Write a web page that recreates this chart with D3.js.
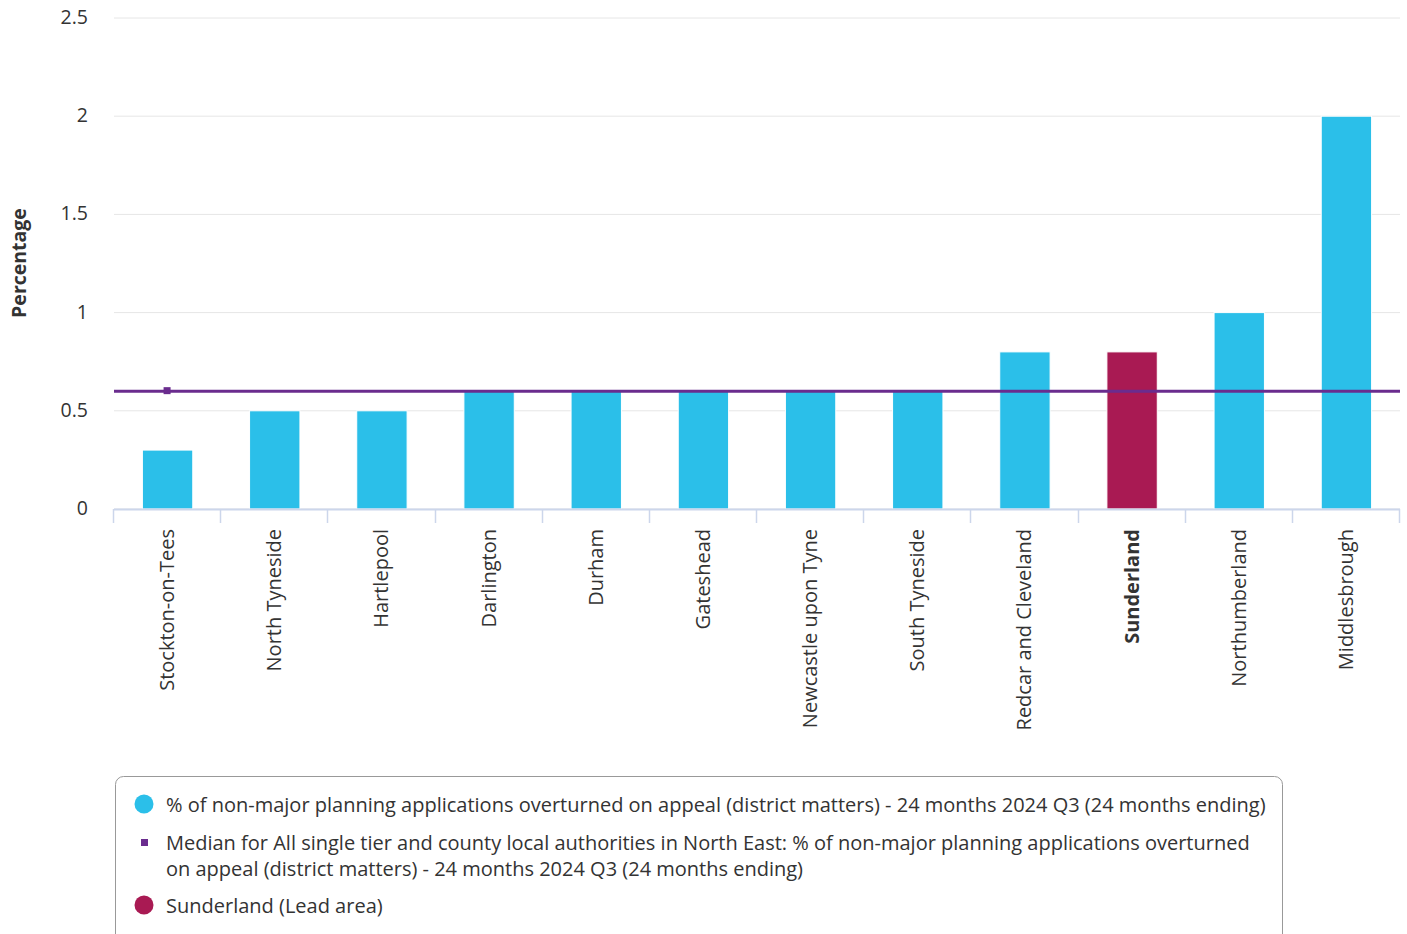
<!DOCTYPE html>
<html><head><meta charset="utf-8">
<script src="https://cdn.jsdelivr.net/npm/d3@7"></script>
<style>
body{margin:0;background:#fff;font-family:"Open Sans",sans-serif;}
svg{display:block}
</style></head>
<body><svg id="c" width="1407" height="934"></svg>
<script>
const categories = ["Stockton-on-Tees","North Tyneside","Hartlepool","Darlington","Durham","Gateshead","Newcastle upon Tyne","South Tyneside","Redcar and Cleveland","Sunderland","Northumberland","Middlesbrough"];
const values = [0.3,0.5,0.5,0.6,0.6,0.6,0.6,0.6,0.8,0.8,1.0,2.0];
const leadArea = "Sunderland";
const medianValue = 0.6;
const yTicks = [0,0.5,1,1.5,2,2.5];
const legendLabels = [
  "% of non-major planning applications overturned on appeal (district matters) - 24 months 2024 Q3 (24 months ending)",
  ["Median for All single tier and county local authorities in North East: % of non-major planning applications overturned","on appeal (district matters) - 24 months 2024 Q3 (24 months ending)"],
  "Sunderland (Lead area)"
];

const svg = d3.select("#c");
const L=114, R=1400, T=18, B=509;
const x = d3.scaleBand().domain(categories).range([L,R]).paddingInner(0.53).paddingOuter(0.265);
const xb = d3.scaleBand().domain(categories).range([L,R]);
const y = d3.scaleLinear().domain([0,2.5]).range([B,T]);

// grid
svg.append("g").selectAll("line").data(yTicks).join("line")
  .attr("x1",L).attr("x2",R).attr("y1",d=>y(d)).attr("y2",d=>y(d))
  .attr("stroke","#e6e6e6").attr("stroke-width",1);
// y labels
svg.append("g").selectAll("text").data(yTicks).join("text")
  .attr("x",88).attr("y",d=>y(d)+6).attr("text-anchor","end")
  .attr("font-size",19.5).attr("fill","#333").text(d=>d);
svg.append("text").attr("transform","translate(26,263) rotate(-90)")
  .attr("text-anchor","middle").attr("font-size",19.5).attr("font-weight","bold").attr("fill","#333").text("Percentage");

// bars
svg.append("g").selectAll("rect").data(categories).join("rect")
  .attr("x",d=>x(d)).attr("width",x.bandwidth())
  .attr("y",(d,i)=>y(values[i])).attr("height",(d,i)=>y(0)-y(values[i]))
  .attr("fill",d=>d===leadArea?"#a91a53":"#2bbfe9")
  .attr("stroke","#fff").attr("stroke-width",1);

// x axis
const xAxis = svg.append("g");
xAxis.append("line").attr("x1",L).attr("x2",R).attr("y1",B+0.5).attr("y2",B+0.5).attr("stroke","#ccd6eb").attr("stroke-width",2);
const tickPos = categories.map(c=>xb(c)).concat([R]);
xAxis.selectAll(".tk").data(tickPos).join("line").attr("class","tk")
  .attr("x1",d=>Math.round(d)-0.5).attr("x2",d=>Math.round(d)-0.5).attr("y1",B).attr("y2",B+14).attr("stroke","#ccd6eb").attr("stroke-width",1.5);
xAxis.selectAll("text").data(categories).join("text")
  .attr("transform",d=>`translate(${xb(d)+xb.bandwidth()/2+6.5},529) rotate(-90)`)
  .attr("text-anchor","end").attr("font-size",20).attr("fill","#333")
  .attr("font-weight",d=>d===leadArea?"bold":"normal").text(d=>d);

// median line
svg.append("line").attr("x1",L).attr("x2",R).attr("y1",y(medianValue)).attr("y2",y(medianValue))
  .attr("stroke","#6a2c8e").attr("stroke-width",3);
svg.append("rect").attr("x",xb(categories[0])+xb.bandwidth()/2-4).attr("y",y(medianValue)-4)
  .attr("width",7).attr("height",7).attr("fill","#6a2c8e");

// legend
const lg = svg.append("g");
lg.append("rect").attr("x",115.5).attr("y",776.5).attr("width",1167).attr("height",180).attr("rx",8)
  .attr("fill","none").attr("stroke","#999");
lg.append("circle").attr("cx",144).attr("cy",804).attr("r",9.5).attr("fill","#2bbfe9");
lg.append("text").attr("x",166).attr("y",812).attr("font-size",20).attr("fill","#333").text(legendLabels[0]);
lg.append("rect").attr("x",141).attr("y",839).attr("width",7).attr("height",7).attr("fill","#6a2c8e");
lg.append("text").attr("x",166).attr("y",850).attr("font-size",20).attr("fill","#333").text(legendLabels[1][0]);
lg.append("text").attr("x",166).attr("y",876).attr("font-size",20).attr("fill","#333").text(legendLabels[1][1]);
lg.append("circle").attr("cx",144).attr("cy",905).attr("r",9.5).attr("fill","#a91a53");
lg.append("text").attr("x",166).attr("y",913).attr("font-size",20).attr("fill","#333").text(legendLabels[2]);
</script></body></html>
